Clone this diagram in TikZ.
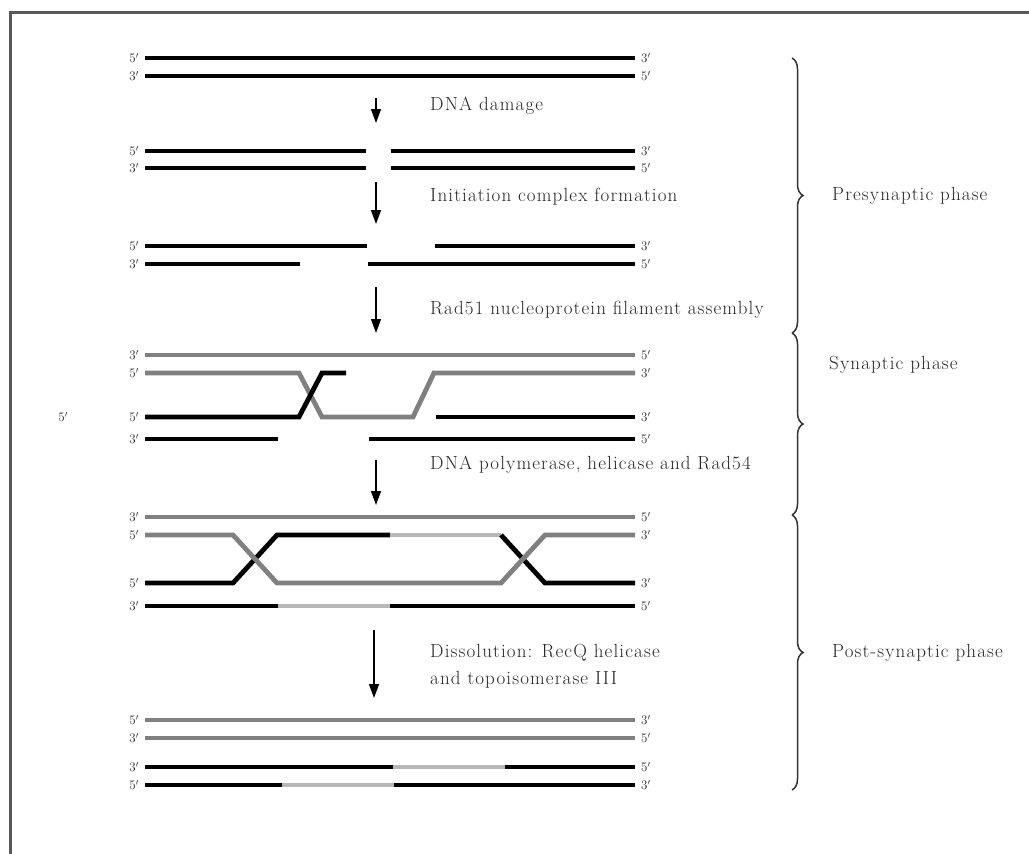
\documentclass[tikz,border=0pt]{standalone}
\usepackage{fontspec}
\setmainfont{Latin Modern Roman}[LetterSpace=6]
\usetikzlibrary{arrows.meta,decorations.pathreplacing}
\tikzset{
  dna/.style={line width=4.8pt,black},
  donor/.style={line width=4.8pt,black!50},
  newdna/.style={line width=4pt,black!28},
  endl/.style={anchor=east,inner sep=1pt,font=\fontsize{13}{13}\selectfont,text=black!85},
  endr/.style={anchor=west,inner sep=1pt,font=\fontsize{13}{13}\selectfont,text=black!85},
  proc/.style={-{Triangle[length=14pt,width=10pt]},line width=1.4pt},
  caption/.style={anchor=west,inner sep=0pt,align=left,text=black!85},
  phase/.style={decorate,decoration={brace,amplitude=11pt,aspect=0.5},line width=1.5pt,black!80}
}
\begin{document}
\begin{tikzpicture}[x=1pt,y=-1pt,font=\fontsize{19}{27}\selectfont]
\useasboundingbox (0,0) rectangle (1029,854);
% frame
\draw[line width=3pt,black!65] (10,854) -- (10,12) -- (1029,12);
% strand ends
\foreach \y/\l/\r in {58/5/3,76/3/5,151/5/3,168/3/5,246/5/3,264/3/5,
  355/3/5,373/5/3,417/5/3,439/3/5,517/3/5,535/5/3,583/5/3,606/3/5,
  720/5/3,738/3/5,767/3/5,785/5/3}{
  \node[endl] (l\y) at (140,\y) {\l$'$};
  \node[endr] (r\y) at (640,\y) {\r$'$};
}
\node[endl] (lone) at (69,417) {5$'$};
% intact duplex
\draw[dna] (145,58) -- (635,58);
\draw[dna] (145,76) -- (635,76);
% double-strand break
\draw[dna] (145,151) -- (366,151);
\draw[dna] (391,151) -- (635,151);
\draw[dna] (145,168) -- (366,168);
\draw[dna] (391,168) -- (635,168);
% resection
\draw[dna] (145,246) -- (367,246);
\draw[dna] (435,246) -- (635,246);
\draw[dna] (145,264) -- (300,264);
\draw[dna] (368,264) -- (635,264);
% strand invasion
\draw[donor] (145,355) -- (635,355);
\draw[donor] (145,373) -- (299,373) -- (322,417) -- (413,417) -- (434,373) -- (635,373);
\draw[dna] (145,417) -- (299,417) -- (322,373) -- (346,373);
\draw[dna] (436,417) -- (635,417);
\draw[dna] (145,439) -- (278,439);
\draw[dna] (369,439) -- (635,439);
% double Holliday junction
\draw[donor] (145,517) -- (635,517);
\draw[dna] (145,583) -- (233,583) -- (277,535) -- (390,535);
\draw[newdna] (390,535) -- (501,535);
\draw[dna] (501,535) -- (545,583) -- (635,583);
\draw[donor] (145,535) -- (233,535) -- (277,583) -- (501,583) -- (545,535) -- (635,535);
\draw[dna] (145,606) -- (278,606);
\draw[newdna] (278,606) -- (390,606);
\draw[dna] (390,606) -- (635,606);
% products
\draw[donor] (145,720) -- (635,720);
\draw[donor] (145,738) -- (635,738);
\draw[dna] (145,767) -- (393,767);
\draw[newdna] (393,767) -- (505,767);
\draw[dna] (505,767) -- (635,767);
\draw[dna] (145,785) -- (282,785);
\draw[newdna] (282,785) -- (394,785);
\draw[dna] (394,785) -- (635,785);
% steps
\foreach \i/\x/\ya/\yb in {1/376/98/123,2/376/182/224,3/376/287/333,4/376/460/505,5/374/630/698}{
  \coordinate (s\i) at (\x,\ya);
  \coordinate (e\i) at (\x,\yb);
  \draw[proc] (s\i) -- (e\i);
}
\node[caption] (t1) at (430,106) {DNA damage};
\node[caption] (t2) at (430,197) {Initiation complex formation};
\node[caption] (t3) at (430,310) {Rad51 nucleoprotein filament assembly};
\node[caption] (t4) at (430,465) {DNA polymerase, helicase and Rad54};
\node[caption] (t5) at (430,666) {Dissolution: RecQ helicase\\and topoisomerase III};
% phases
\coordinate (b0) at (792,58);
\coordinate (b1) at (792,333);
\coordinate (b2) at (792,515);
\coordinate (b3) at (792,790);
\draw[phase] (b0) -- (b1);
\draw[phase] (b1) -- (b2);
\draw[phase] (b2) -- (b3);
\node[caption] (p1) at (832,196) {Presynaptic phase};
\node[caption] (p2) at (829,365) {Synaptic phase};
\node[caption] (p3) at (832,653) {Post-synaptic phase};
\end{tikzpicture}
\end{document}
